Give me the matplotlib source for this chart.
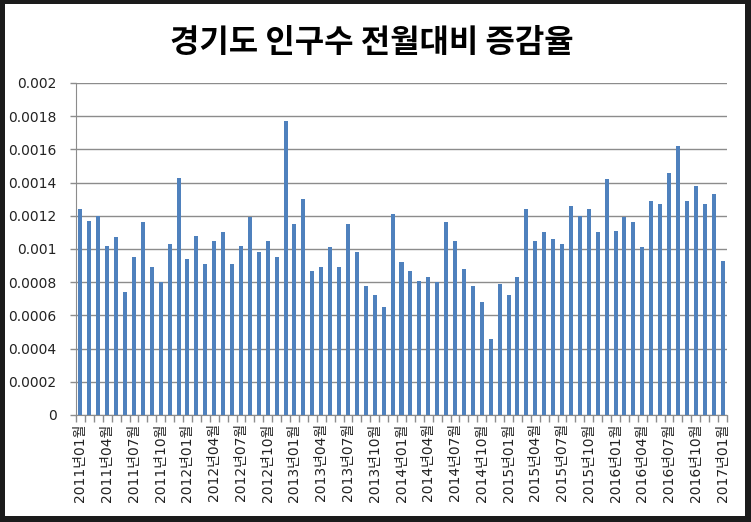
import matplotlib.pyplot as plt
from matplotlib.patches import Rectangle
from matplotlib.ticker import FixedLocator

# Month-over-month population change rate, Gyeonggi-do, 2011-01 .. 2017-01
rates = [
    0.00124, 0.00117, 0.00120, 0.00102, 0.00107, 0.00074, 0.00095, 0.00116,
    0.00089, 0.00080, 0.00103, 0.00143, 0.00094, 0.00108, 0.00091, 0.00105,
    0.00110, 0.00091, 0.00102, 0.00119, 0.00098, 0.00105, 0.00095, 0.00177,
    0.00115, 0.00130, 0.00087, 0.00089, 0.00101, 0.00089, 0.00115, 0.00098,
    0.00078, 0.00072, 0.00065, 0.00121, 0.00092, 0.00087, 0.00081, 0.00083,
    0.00080, 0.00116, 0.00105, 0.00088, 0.00078, 0.00068, 0.00046, 0.00079,
    0.00072, 0.00083, 0.00124, 0.00105, 0.00110, 0.00106, 0.00103, 0.00126,
    0.00120, 0.00124, 0.00110, 0.00142, 0.00111, 0.00119, 0.00116, 0.00101,
    0.00129, 0.00127, 0.00146, 0.00162, 0.00129, 0.00138, 0.00127, 0.00133,
    0.00093,
]
tick_labels = [
    '2011년01월', '2011년04월', '2011년07월', '2011년10월',
    '2012년01월', '2012년04월', '2012년07월', '2012년10월',
    '2013년01월', '2013년04월', '2013년07월', '2013년10월',
    '2014년01월', '2014년04월', '2014년07월', '2014년10월',
    '2015년01월', '2015년04월', '2015년07월', '2015년10월',
    '2016년01월', '2016년04월', '2016년07월', '2016년10월',
    '2017년01월',
]
y_ticks = [0, 0.0002, 0.0004, 0.0006, 0.0008, 0.001, 0.0012, 0.0014,
           0.0016, 0.0018, 0.002]

grid_color = '#8c8c8c'
fonts = ['DejaVu Sans', 'Noto Sans CJK KR']

fig = plt.figure(figsize=(7.51, 5.22), dpi=100, facecolor='#1b1b1b')
# white chart area inside the dark frame of the screenshot
fig.patches.append(Rectangle((5 / 751, 6 / 522), 740 / 751, 512 / 522,
                             transform=fig.transFigure, facecolor='white',
                             edgecolor='none', zorder=-1))

ax = fig.add_axes([76 / 751, 1 - 415 / 522, 651 / 751, 332 / 522])
ax.set_facecolor('none')

x = list(range(len(rates)))
ax.bar(x, rates, width=0.45, color='#4f81bd', zorder=3)

ax.set_xlim(-0.5, len(rates) - 0.5)
ax.set_ylim(0, 0.002)
ax.set_yticks(y_ticks)
ax.set_yticklabels(['0' if v == 0 else f'{v:g}' for v in y_ticks])
ax.yaxis.grid(True, color=grid_color, linewidth=1, zorder=0)

ax.set_xticks(x[::3])
ax.set_xticklabels(tick_labels, rotation=90, family=fonts, fontsize=10)
ax.xaxis.set_minor_locator(FixedLocator([i - 0.5 for i in range(len(rates) + 1)]))
ax.tick_params(axis='x', which='major', length=0, pad=6, colors='#222222')
ax.tick_params(axis='x', which='minor', length=5, width=1, color=grid_color)
ax.tick_params(axis='y', length=4, width=1, color=grid_color, pad=10,
               labelsize=10, labelcolor='#222222')

for side in ['top', 'right']:
    ax.spines[side].set_visible(False)
for side in ['left', 'bottom']:
    ax.spines[side].set_color(grid_color)

fig.text(372 / 751, 1 - 43 / 522, '경기도 인구수 전월대비 증감율',
         family=['Noto Sans CJK KR', 'DejaVu Sans'], fontsize=23,
         weight='bold', ha='center', va='center')

fig.savefig('out.png', dpi=100, facecolor=fig.get_facecolor())
